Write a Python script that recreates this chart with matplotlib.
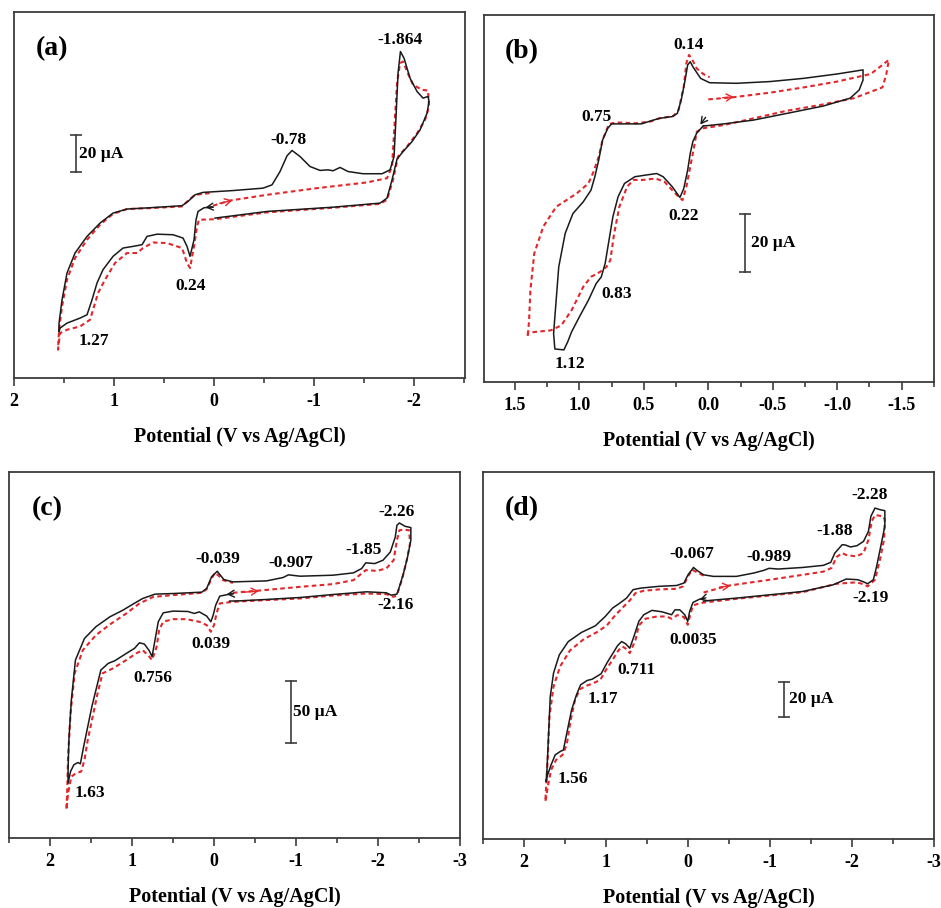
import matplotlib
matplotlib.use("Agg")
import matplotlib.pyplot as plt
from matplotlib.ticker import MultipleLocator, FormatStrFormatter

plt.rcParams['font.family'] = 'serif'
plt.rcParams['font.serif'] = ['Liberation Serif', 'DejaVu Serif']
plt.rcParams['font.weight'] = 'bold'
plt.rcParams['axes.unicode_minus'] = False

# ---- (a) potential (V) / current (uA), black = first scan, red = second scan
a_black_v = [0.01, 0.10, 0.16, 0.18, 0.20, 0.24, 0.27, 0.31, 0.41, 0.57, 0.67, 0.72, 0.81, 0.91, 1.01, 1.11, 1.17, 1.22, 1.27, 1.34, 1.47, 1.54, 1.55,
             1.55, 1.52, 1.47, 1.39, 1.27, 1.14, 1.01, 0.87, 0.64, 0.32, 0.26, 0.19, 0.11, -0.19, -0.49, -0.58, -0.66, -0.73, -0.78, -0.86,
             -0.96, -1.06, -1.14, -1.19, -1.26, -1.34, -1.49, -1.68, -1.76, -1.80, -1.82, -1.84, -1.864, -1.90, -1.96, -2.03, -2.09, -2.14, -2.15,
             -2.13, -2.06, -1.98, -1.89, -1.83, -1.78, -1.73, -1.66, -1.19, -0.53, -0.01]
a_black_i = [-4.0, -4.3, -6.3, -10.8, -21.6, -30.6, -25.2, -20.7, -18.9, -18.6, -19.8, -24.3, -25.2, -26.1, -30.6, -37.8, -45.0, -54.1, -62.2, -64.0, -66.7, -69.4, -71.5,
             -66.7, -54.1, -39.6, -28.8, -19.8, -12.6, -7.2, -5.0, -4.3, -3.2, -0.9, 2.7, 4.0, 5.0, 6.3, 8.1, 15.3, 23.8, 26.7, 23.4,
             18.0, 15.9, 16.2, 15.7, 17.5, 15.3, 14.1, 14.1, 16.2, 23.4, 45.0, 68.5, 80.2, 76.6, 65.8, 58.6, 55.0, 55.9, 53.2,
             46.8, 37.8, 31.5, 26.1, 22.0, 10.8, 0.9, -1.8, -4.0, -6.3, -9.9]
a_red_v = [0.01, -0.16, -0.53, -1.03, -1.53, -1.73, -1.78, -1.80, -1.83, -1.86, -1.89, -1.93, -1.99, -2.08, -2.14, -2.15, -2.11, -2.03, -1.93, -1.84,
           -1.79, -1.73, -1.66, -1.19, -0.53, -0.01, 0.15, 0.17, 0.20, 0.24, 0.27, 0.32, 0.47, 0.61, 0.71, 0.77, 0.87, 0.99, 1.09, 1.16,
           1.21, 1.24, 1.34, 1.47, 1.54, 1.56,
           1.55, 1.52, 1.47, 1.39, 1.27, 1.14, 1.01, 0.87, 0.64, 0.32, 0.26, 0.19, 0.04, 0.01]
a_red_i = [-3.2, -0.4, 2.7, 6.3, 9.4, 11.7, 18.0, 36.0, 63.1, 73.9, 74.8, 69.4, 62.2, 59.5, 59.1, 50.5, 43.2, 36.0, 28.8, 23.4,
           10.8, 0.0, -2.2, -4.3, -6.8, -10.5, -10.8, -14.4, -25.2, -36.9, -34.2, -26.1, -23.4, -23.1, -26.1, -28.8, -28.8, -34.2, -43.2, -50.5,
           -59.5, -64.9, -68.5, -70.3, -72.1, -81.1,
           -70.3, -57.7, -43.2, -31.5, -21.6, -13.5, -7.6, -5.0, -4.5, -3.6, -0.5, 2.7, 3.6, 3.2]
a_peaks = ['-1.864', '-0.78', '0.24', '1.27']
a_peak_v = [-1.86, -0.74, 0.23, 1.20]
a_peak_i = [86.5, 32.4, -46.5, -76.6]

# ---- (b)
b_black_v = [0.04, 0.09, 0.12, 0.14, 0.16, 0.19, 0.22, 0.24, 0.28, 0.35, 0.40, 0.48, 0.57, 0.65, 0.70, 0.74, 0.77, 0.80, 0.83, 0.87,
             0.93, 1.00, 1.06, 1.09, 1.12, 1.19,
             1.20, 1.18, 1.16, 1.11, 1.05, 0.97, 0.91, 0.88, 0.85, 0.82, 0.78, 0.75, 0.61, 0.52, 0.44, 0.38, 0.28, 0.24, 0.21, 0.18,
             0.16, 0.14, 0.12, 0.06, -0.01, -0.22, -0.48, -0.74, -1.00, -1.20,
             -1.20, -1.17, -1.10, -0.89, -0.61, -0.35, -0.12, 0.03]
b_black_i = [25.4, 22.9, 20.0, 16.0, 10.3, 4.0, 0.9, 2.1, 4.6, 8.0, 9.1, 8.6, 8.0, 5.7, 1.1, -5.7, -13.7, -21.7, -26.3, -28.6,
             -34.3, -40.0, -45.1, -48.5, -51.3, -51.0,
             -45.7, -34.3, -22.9, -11.4, -4.6, -0.6, 3.4, 8.0, 13.7, 20.6, 24.6, 26.1, 26.1, 26.1, 27.2, 28.0, 28.6, 29.7, 34.3, 41.1,
             46.3, 47.4, 45.7, 41.7, 40.2, 40.0, 40.6, 41.7, 43.2, 44.6,
             41.1, 37.7, 34.9, 32.2, 29.7, 27.4, 26.1, 25.4]
b_red_v = [0.00, -0.19, -0.48, -0.74, -1.00, -1.26, -1.40, -1.38, -1.35, -1.13, -0.87, -0.61, -0.35, -0.12, 0.04, 0.09, 0.11, 0.14, 0.17, 0.20,
           0.23, 0.28, 0.34, 0.41, 0.51, 0.58, 0.63, 0.69, 0.73, 0.76, 0.79, 0.84, 0.91, 0.97, 1.06, 1.14, 1.22, 1.33, 1.40, 1.40,
           1.39, 1.38, 1.35, 1.28, 1.18, 1.02, 0.93, 0.89, 0.85, 0.82, 0.77, 0.71, 0.56, 0.45, 0.38, 0.27, 0.23, 0.19, 0.17, 0.15,
           0.13, 0.09, 0.04, -0.01]
b_red_i = [34.5, 35.2, 36.8, 38.6, 40.6, 43.2, 48.0, 42.9, 38.6, 34.9, 32.6, 30.6, 28.0, 25.7, 24.6, 23.4, 18.3, 11.4, 4.6, 0.0,
           1.1, 3.4, 6.3, 7.4, 6.9, 6.9, 4.6, -2.3, -11.4, -20.6, -22.9, -24.6, -26.3, -29.7, -37.7, -42.9, -44.6, -45.1, -45.4, -46.9,
           -41.1, -30.9, -18.3, -9.1, -2.3, 2.3, 5.7, 9.7, 14.9, 20.6, 26.1, 26.6, 26.3, 26.9, 28.0, 28.8, 30.9, 38.9, 46.9, 49.7,
           48.6, 45.1, 43.2, 42.1]
b_peaks = ['0.14', '0.75', '0.22', '0.83', '1.12']
b_peak_v = [0.155, 0.87, 0.19, 0.71, 1.07]
b_peak_i = [53.1, 28.6, -5.5, -32.2, -56.0]

# ---- (c)
c_black_v = [-0.23, -0.07, -0.02, 0.01, 0.039, 0.09, 0.18, 0.24, 0.32, 0.50, 0.62, 0.68, 0.72, 0.756, 0.79, 0.85, 0.91, 0.97, 1.07, 1.21,
             1.29, 1.38, 1.43, 1.49, 1.54, 1.59, 1.63, 1.66, 1.71, 1.75, 1.78,
             1.78, 1.77, 1.74, 1.69, 1.58, 1.44, 1.27, 1.11, 0.99, 0.87, 0.72, 0.50, 0.15, 0.09, 0.03, -0.039, -0.06, -0.12, -0.23, -0.64,
             -0.84, -0.907, -1.05, -1.45, -1.70, -1.80, -1.85, -1.96, -2.06, -2.15, -2.21, -2.23, -2.26, -2.33, -2.40,
             -2.40, -2.36, -2.31, -2.26, -2.23, -2.16, -2.10, -1.86, -1.45, -1.05, -0.64, -0.31, -0.19]
c_black_i = [37.6, 35.5, 28.2, 20.2, 14.8, 19.4, 22.8, 21.5, 23.1, 23.4, 22.0, 14.8, 0.0, -13.4, -8.6, -3.2, -2.2, -6.7, -10.8, -16.7,
             -18.8, -24.2, -37.6, -53.8, -69.9, -86.0, -100.0, -98.9, -100.8, -106.2, -115.6,
             -104.8, -80.6, -48.4, -16.1, 1.3, 10.8, 18.8, 24.2, 29.0, 33.6, 37.1, 37.6, 38.7, 41.7, 51.1, 55.6, 53.8, 48.9, 47.0, 47.8,
             50.5, 52.7, 51.6, 52.4, 54.3, 57.8, 62.4, 61.8, 64.5, 71.2, 83.3, 92.7, 94.6, 91.9, 90.9,
             80.6, 67.2, 53.8, 43.0, 37.1, 36.3, 38.2, 39.0, 36.8, 34.4, 32.8, 31.7, 31.5]
c_red_v = [-0.23, -0.52, -1.05, -1.45, -1.70, -1.80, -1.85, -1.98, -2.10, -2.19, -2.23, -2.26, -2.31, -2.38, -2.39, -2.35, -2.29, -2.23, -2.19, -2.10,
           -1.86, -1.45, -1.05, -0.64, -0.23, -0.07, -0.03, 0.00, 0.039, 0.09, 0.18, 0.34, 0.50, 0.62, 0.67, 0.70, 0.756, 0.79, 0.87, 0.95,
           1.07, 1.23, 1.36, 1.42, 1.48, 1.54, 1.58, 1.62, 1.68, 1.74, 1.78, 1.80,
           1.79, 1.78, 1.75, 1.70, 1.60, 1.44, 1.27, 1.07, 0.91, 0.74, 0.50, 0.15, 0.09, 0.03, -0.01, -0.05, -0.11, -0.23]
c_red_i = [38.2, 39.8, 43.0, 45.2, 48.4, 53.8, 56.5, 55.9, 57.8, 64.5, 80.6, 88.7, 89.2, 88.7, 78.0, 64.5, 48.4, 36.3, 34.9, 37.1,
           37.6, 36.0, 33.6, 32.3, 30.9, 29.6, 21.5, 12.1, 6.7, 12.1, 14.8, 16.9, 16.9, 14.8, 8.1, -5.4, -16.1, -13.4, -8.1, -10.8,
           -16.1, -22.8, -26.9, -43.0, -61.8, -80.6, -96.8, -106.2, -107.5, -110.2, -123.7, -137.1,
           -121.0, -94.1, -59.1, -26.9, -8.1, 4.0, 12.6, 21.5, 29.6, 34.9, 36.3, 38.2, 41.1, 49.7, 54.3, 52.4, 48.4, 46.2]
c_peaks = ['-2.26', '-1.85', '-0.907', '-0.039', '-2.16', '0.039', '0.756', '1.63']
c_peak_v = [-2.23, -1.82, -0.93, -0.05, -2.21, 0.04, 0.74, 1.51]
c_peak_i = [103.5, 72.6, 62.4, 65.1, 28.2, -3.2, -30.9, -123.7]

# ---- (d)
d_black_v = [-0.19, -0.14, -0.06, -0.02, 0.0035, 0.04, 0.10, 0.16, 0.20, 0.24, 0.32, 0.44, 0.54, 0.60, 0.66, 0.711, 0.76, 0.81, 0.86, 0.92,
             0.99, 1.06, 1.17, 1.23, 1.31, 1.36, 1.42, 1.47, 1.52, 1.56, 1.62, 1.67, 1.72, 1.73,
             1.72, 1.70, 1.68, 1.64, 1.57, 1.46, 1.30, 1.13, 1.01, 0.92, 0.83, 0.75, 0.67, 0.58, 0.36, 0.14, 0.05, 0.00, -0.067, -0.11,
             -0.19, -0.31, -0.59, -0.80, -0.92, -0.989, -1.10, -1.40, -1.65, -1.74, -1.79, -1.88, -1.92, -1.98, -2.06, -2.14, -2.20, -2.23,
             -2.28, -2.34, -2.40,
             -2.40, -2.35, -2.30, -2.26, -2.19, -2.14, -2.07, -1.93, -1.77, -1.40, -1.00, -0.59, -0.27, -0.19]
d_black_i = [23.8, 23.2, 21.3, 16.2, 10.5, 14.3, 17.1, 17.1, 14.3, 14.9, 16.0, 16.8, 14.3, 10.5, 1.9, -4.8, -2.3, -1.0, -3.4, -8.0,
             -13.3, -19.4, -22.5, -23.2, -25.7, -31.4, -40.0, -51.4, -62.9, -63.8, -65.7, -71.4, -78.1, -81.0,
             -74.3, -53.3, -32.4, -19.0, -8.6, -1.0, 4.2, 8.0, 13.3, 18.1, 21.0, 23.8, 28.6, 29.5, 30.5, 31.0, 32.4, 37.1, 41.3, 39.6,
             37.1, 36.2, 36.2, 38.1, 39.6, 40.8, 40.4, 41.3, 42.5, 44.2, 49.5, 54.3, 54.1, 53.0, 53.7, 56.2, 61.9, 70.5,
             75.2, 74.3, 73.7,
             64.8, 53.3, 41.9, 34.3, 32.0, 33.1, 34.3, 34.7, 31.4, 27.6, 25.7, 23.8, 22.5, 22.1]
d_red_v = [-0.19, -0.49, -1.00, -1.40, -1.65, -1.75, -1.81, -1.88, -1.93, -2.05, -2.14, -2.20, -2.24, -2.28, -2.38, -2.40, -2.39, -2.34, -2.28, -2.19,
           -2.14, -2.05, -1.81, -1.40, -1.00, -0.59, -0.27, -0.15, -0.06, -0.03, 0.0035, 0.05, 0.13, 0.20, 0.26, 0.38, 0.52, 0.60, 0.64, 0.711,
           0.75, 0.80, 0.85, 0.91, 0.99, 1.07, 1.17, 1.23, 1.32, 1.38, 1.43, 1.48, 1.53, 1.61, 1.67, 1.71, 1.74,
           1.73, 1.71, 1.69, 1.64, 1.56, 1.44, 1.27, 1.11, 0.99, 0.89, 0.79, 0.71, 0.64, 0.54, 0.34, 0.14, 0.06, 0.00, -0.05, -0.11, -0.19]
d_red_i = [27.0, 30.9, 34.3, 37.1, 38.9, 41.0, 47.2, 49.5, 48.4, 47.6, 49.5, 57.1, 67.6, 71.2, 70.5, 68.6, 57.1, 45.7, 34.3, 30.5,
           31.8, 32.8, 32.0, 27.2, 25.3, 23.4, 21.7, 21.0, 19.6, 14.9, 8.6, 13.0, 14.1, 12.0, 13.3, 13.3, 12.0, 8.2, 0.0, -7.6,
           -5.3, -3.8, -6.1, -10.7, -16.4, -22.9, -25.1, -26.1, -28.2, -34.7, -45.7, -60.0, -65.7, -68.6, -74.3, -83.8, -92.4,
           -83.8, -66.7, -43.8, -26.7, -15.2, -6.1, 0.4, 4.4, 8.2, 13.9, 18.7, 22.5, 26.7, 28.0, 28.8, 29.1, 30.5, 36.2, 40.0, 38.5, 36.6]
d_peaks = ['-2.28', '-1.88', '-0.989', '-0.067', '-2.19', '0.0035', '0.711', '1.17', '1.56']
d_peak_v = [-2.21, -1.79, -0.99, -0.04, -2.22, -0.06, 0.63, 1.04, 1.40]
d_peak_i = [82.9, 61.9, 47.2, 49.1, 23.8, 0.0, -17.1, -33.9, -79.6]

BLACK = '#1a1a1a'
RED = '#e3262b'
GREY = '#3c3c3c'


def draw_panel(ax, bv, bi, rv, ri, xlim, ylim, major, minor, fmt, tag,
               peaks, pv, pi, bar_x, bar_y, bar_text, bar_tx, arrows):
    ax.plot(bv, bi, color=BLACK, lw=1.1, zorder=3)
    ax.plot(rv, ri, color=RED, lw=1.5, dashes=(2.2, 1.6), zorder=2)

    # scan direction arrows
    (b_from, b_to), (r_from, r_to) = arrows
    ax.annotate('', xy=b_to, xytext=b_from,
                arrowprops=dict(arrowstyle='->,head_length=0.45,head_width=0.25', color=BLACK, lw=1.0))
    ax.annotate('', xy=r_to, xytext=r_from,
                arrowprops=dict(arrowstyle='->,head_length=0.45,head_width=0.25', color=RED, lw=1.0))

    for s, x, y in zip(peaks, pv, pi):
        ax.text(x, y, s, ha='center', va='center', fontsize=12.5, fontweight='bold')

    # current scale bar
    ax.plot([bar_x, bar_x], bar_y, color=GREY, lw=1.2)
    ax.plot([bar_x, bar_x], bar_y, ls='none', marker='_', ms=9, mew=1.2, color=GREY)
    ax.text(bar_tx, (bar_y[0] + bar_y[1]) / 2, bar_text, ha='left', va='center', fontsize=12.5, fontweight='bold')

    ax.text(0.085, 0.9, tag, transform=ax.transAxes, ha='center', va='center', fontsize=20, fontweight='bold')

    ax.set_xlim(*xlim)
    ax.set_ylim(*ylim)
    ax.xaxis.set_major_locator(MultipleLocator(major))
    ax.xaxis.set_minor_locator(MultipleLocator(minor))
    ax.xaxis.set_major_formatter(FormatStrFormatter(fmt))
    ax.set_yticks([])
    ax.tick_params(axis='x', which='major', direction='out', length=6, width=1.2, pad=5,
                   labelsize=13, colors=GREY, labelcolor='black')
    ax.tick_params(axis='x', which='minor', direction='out', length=3.5, width=1.2, colors=GREY)
    for sp in ax.spines.values():
        sp.set_color(GREY)
        sp.set_linewidth(1.3)
    ax.set_xlabel('Potential (V vs Ag/AgCl)', fontsize=14.5, fontweight='bold', labelpad=12)


fig = plt.figure(figsize=(9.41, 9.08), dpi=100)
ax_a = fig.add_axes([0.0149, 0.5837, 0.4793, 0.4031])
ax_b = fig.add_axes([0.5143, 0.5793, 0.4782, 0.4042])
ax_c = fig.add_axes([0.0096, 0.0771, 0.4793, 0.4031])
ax_d = fig.add_axes([0.5133, 0.0760, 0.4793, 0.4042])

draw_panel(ax_a, a_black_v, a_black_i, a_red_v, a_red_i, (2.0, -2.51), (-96.4, 101.6), 1, 0.5, '%d', '(a)',
           a_peaks, a_peak_v, a_peak_i, 1.38, (15, 35), '20 \u00b5A', 1.35,
           [((-0.01, -3.6), (0.113, -4.3)), ((-0.03, -2.3), (-0.21, 0.0))])
draw_panel(ax_b, b_black_v, b_black_i, b_red_v, b_red_i, (1.74, -1.75), (-62.3, 63.4), 0.5, 0.25, '%.1f', '(b)',
           b_peaks, b_peak_v, b_peak_i, -0.285, (-24.6, -4.6), '20 \u00b5A', -0.33,
           [((0.008, 29.1), (0.075, 25.1)), ((-0.09, 35.0), (-0.22, 35.4))])
draw_panel(ax_c, c_black_v, c_black_i, c_red_v, c_red_i, (2.5, -3.0), (-159.9, 135.8), 1, 0.5, '%d', '(c)',
           c_peaks, c_peak_v, c_peak_i, -0.94, (-82.8, -32.8), '50 \u00b5A', -0.965,
           [((-0.27, 37.6), (-0.12, 36.8)), ((-0.31, 38.4), (-0.58, 39.8))])
draw_panel(ax_d, d_black_v, d_black_i, d_red_v, d_red_i, (2.5, -3.0), (-113.7, 95.8), 1, 0.5, '%d', '(d)',
           d_peaks, d_peak_v, d_peak_i, -1.17, (-43.8, -23.8), '20 \u00b5A', -1.23,
           [((-0.25, 24.4), (-0.11, 22.5)), ((-0.35, 29.9), (-0.55, 31.0))])

fig.savefig('out.png', dpi=100)
